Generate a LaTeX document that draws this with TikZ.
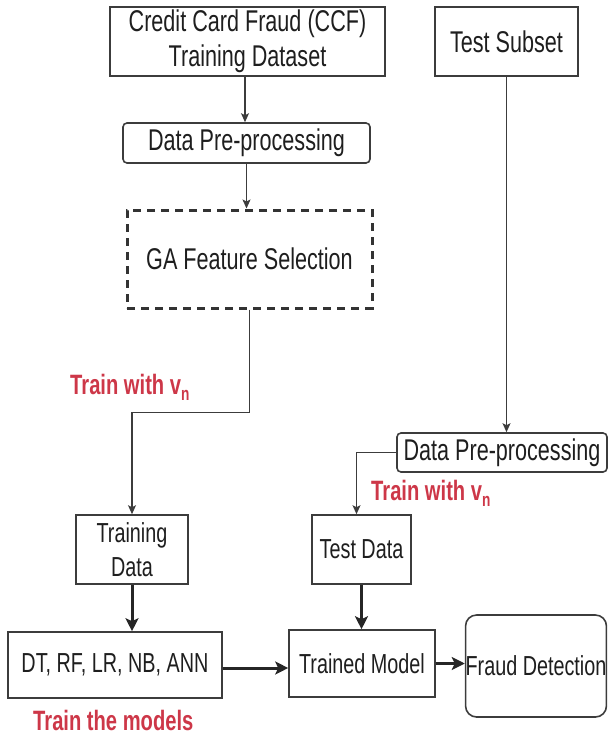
\documentclass[tikz,border=0pt]{standalone}
\usepackage{fontspec}
\setmainfont{Liberation Sans}[FakeStretch=0.72]
\usetikzlibrary{arrows.meta,calc}
\definecolor{txt}{RGB}{30,30,30}
\definecolor{ln}{RGB}{60,60,60}
\definecolor{redlab}{RGB}{205,55,72}
\begin{document}
\begin{tikzpicture}[x=1pt,y=-1pt,
  box/.style={draw=ln,line width=1.6pt,rectangle,inner sep=0pt,text=txt,align=center,
    font=\fontsize{30}{35}\selectfont},
  boxs/.style={box,font=\fontsize{27.5}{34}\selectfont},
  rbox/.style={box,rounded corners=4pt},
  thin/.style={draw=ln,line width=1.4pt,-{Stealth[length=9pt,width=8pt,inset=2pt]}},
  thick/.style={draw=black!85,line width=3pt,-{Stealth[length=13pt,width=13pt,inset=3pt]}},
  redl/.style={text=redlab,font=\bfseries\fontsize{28}{30}\selectfont,inner sep=0pt,anchor=base west}
]
\useasboundingbox (0,0) rectangle (608,738);
% top boxes
\node[box,minimum width=275pt,minimum height=69pt] (ccf) at (247.5,41.5)
  {Credit Card Fraud (CCF)\\Training Dataset};
\node[box,minimum width=143pt,minimum height=69pt] (test) at (506.5,41.5) {Test Subset};
\node[rbox,minimum width=247pt,minimum height=40pt] (dp1) at (246.5,143) {Data Pre-processing};
\node[box,draw=black!80,line width=3pt,dash pattern=on 8pt off 6pt,minimum width=245pt,minimum height=98pt] (ga) at (249.5,259) {GA Feature Selection};
% middle
\node[rbox,minimum width=210pt,minimum height=39pt] (dp2) at (502,452.5) {Data Pre-processing};
\node[boxs,minimum width=112pt,minimum height=69pt] (trd) at (132,549.5) {Training\\Data};
\node[boxs,minimum width=99pt,minimum height=69pt] (ted) at (361.5,549.5) {Test Data};
% bottom
\node[boxs,minimum width=214pt,minimum height=66pt] (dt) at (115,665) {DT, RF, LR, NB, ANN};
\node[boxs,minimum width=146pt,minimum height=67pt] (tm) at (362,663.5) {Trained Model};
\node[boxs,rounded corners=11pt,minimum width=140pt,minimum height=102pt] (fd) at (536,666) {Fraud Detection};
% labels
\node[redl] (l1) at (70,394) {Train with v\raisebox{-0.45ex}{\fontsize{19}{19}\selectfont n}};
\node[redl] (l2) at (371,500) {Train with v\raisebox{-0.45ex}{\fontsize{19}{19}\selectfont n}};
\node[redl] (l3) at (33,730) {Train the models};
% connectors
\draw[thin] ([xshift=-2.5pt]ccf.south) -- ([xshift=-2.5pt]ccf.south |- dp1.north);
\draw[thin] (dp1.south) -- (dp1.south |- ga.north);
\draw[thin] (ga.south) -- ++(0,103) -| (trd.north);
\draw[thin] (test.south) -- (test.south |- dp2.north);
\draw[thin] (dp2.west) -| ([xshift=-5pt]ted.north);
\draw[thick] (trd.south) -- (trd.south |- dt.north);
\draw[thick] (ted.south) -- (ted.south |- tm.north);
\draw[thick] ([yshift=-3pt]dt.east) -- ([yshift=-3pt]dt.east -| tm.west);
\draw[thick] (tm.east) -- (tm.east -| fd.west);
\end{tikzpicture}
\end{document}
